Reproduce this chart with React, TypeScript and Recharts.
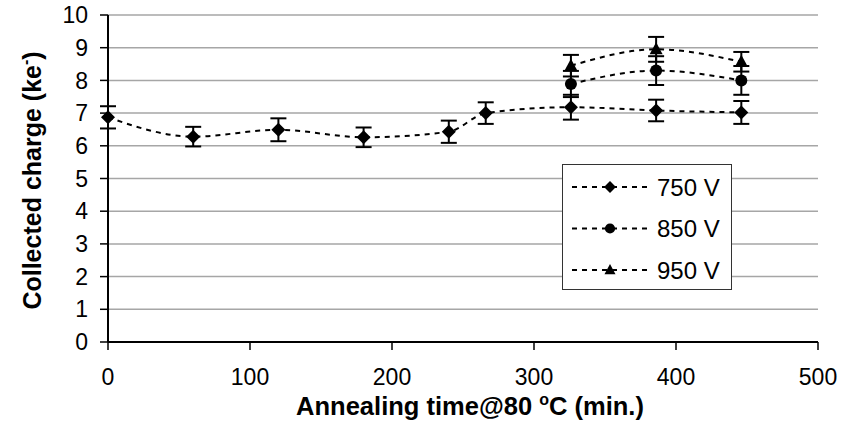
import { LineChart, Line, XAxis, YAxis, CartesianGrid, ErrorBar, Legend } from "recharts";

// annealing time (min.) and collected charge (ke-) with errors, per bias voltage
const times750 = [0, 60, 120, 180, 240, 266, 326, 386, 446];
const charge750 = [6.87, 6.28, 6.49, 6.26, 6.43, 7.0, 7.18, 7.08, 7.02];
const err750 = [0.34, 0.3, 0.35, 0.3, 0.34, 0.33, 0.38, 0.33, 0.35];

const times850 = [326, 386, 446];
const charge850 = [7.89, 8.3, 8.0];
const err850 = [0.4, 0.44, 0.44];

const times950 = [326, 386, 446];
const charge950 = [8.45, 8.95, 8.57];
const err950 = [0.33, 0.38, 0.3];

const seriesNames = ["750 V", "850 V", "950 V"];
const xTicks = [0, 100, 200, 300, 400, 500];
const yTicks = [0, 1, 2, 3, 4, 5, 6, 7, 8, 9, 10];

const FONT = "'Liberation Sans', Arial, sans-serif";

const toRows = (t: number[], c: number[], e: number[]) =>
  t.map((x, i) => ({ time: x, charge: c[i], err: e[i] }));

const data750 = toRows(times750, charge750, err750);
const data850 = toRows(times850, charge850, err850);
const data950 = toRows(times950, charge950, err950);

type Shape = "diamond" | "circle" | "triangle";

function marker(shape: Shape, cx: number, cy: number, s = 1, key?: any) {
  if (shape === "diamond") {
    const h = 7 * s;
    return (
      <polygon key={key} points={`${cx},${cy - h} ${cx + h},${cy} ${cx},${cy + h} ${cx - h},${cy}`} fill="#000" />
    );
  }
  if (shape === "circle") return <circle key={key} cx={cx} cy={cy} r={6 * s} fill="#000" />;
  return (
    <polygon
      key={key}
      points={`${cx},${cy - 7 * s} ${cx + 6.5 * s},${cy + 5 * s} ${cx - 6.5 * s},${cy + 5 * s}`}
      fill="#000"
    />
  );
}

const dotFor = (shape: Shape) => (p: any) => marker(shape, p.cx, p.cy, 1, p.index);

const shapes: Shape[] = ["diamond", "circle", "triangle"];

function LegendBox() {
  return (
    <svg width={171} height={127} style={{ display: "block" }}>
      <rect x={0.5} y={0.5} width={169} height={125} fill="#fff" stroke="#333" strokeWidth={1} />
      {seriesNames.map((name, i) => {
        const cy = 23 + i * 41.5;
        return (
          <g key={name}>
            <line x1={10} x2={88} y1={cy} y2={cy} stroke="#000" strokeWidth={2} strokeDasharray="5 5" />
            {marker(shapes[i], 48, cy, 0.85)}
            <text x={95} y={cy + 8.5} fontSize={24} fontFamily={FONT} fill="#000">
              {name}
            </text>
          </g>
        );
      })}
    </svg>
  );
}

const XTick = (p: any) => (
  <text x={p.x} y={p.y} dy="0.71em" textAnchor="middle" fontSize={23} fontFamily={FONT} fill="#000">
    {p.payload.value}
  </text>
);

const YTick = (p: any) => (
  <text x={p.x} y={p.y} dy="0.355em" textAnchor="end" fontSize={23} fontFamily={FONT} fill="#000">
    {p.payload.value}
  </text>
);

const XLabel = (props: any) => {
  const vb = props.viewBox;
  const cx = vb.x + vb.width / 2 + 7;
  return (
    <text x={cx} y={415} textAnchor="middle" fontSize={25.5} fontWeight="bold" fontFamily={FONT} fill="#000">
      Annealing time@80{" "}
      <tspan dy={-10} fontSize={16}>
        o
      </tspan>
      <tspan dy={10}>C (min.)</tspan>
    </text>
  );
};

const YLabel = (props: any) => {
  const vb = props.viewBox;
  const cy = vb.y + vb.height / 2 + 2;
  return (
    <text
      x={41}
      y={cy}
      transform={`rotate(-90, 41, ${cy})`}
      textAnchor="middle"
      fontSize={25}
      fontWeight="bold"
      fontFamily={FONT}
      fill="#000"
    >
      Collected charge (ke
      <tspan dy={-10} fontSize={16}>
        -
      </tspan>
      <tspan dy={10}>)</tspan>
    </text>
  );
};

export default function App() {
  return (
    <div style={{ position: "absolute", left: 0, top: 0, width: 857, height: 446, background: "#fff" }}>
      <LineChart width={857} height={446} margin={{ top: 15, right: 39, bottom: 64, left: 0 }}>
        <CartesianGrid vertical={false} stroke="#a6a6a6" strokeWidth={1.5} />
        <XAxis
          dataKey="time"
          type="number"
          domain={[0, 500]}
          ticks={xTicks}
          height={40}
          axisLine={{ stroke: "#000", strokeWidth: 2 }}
          tickLine={{ stroke: "#000", strokeWidth: 1.5 }}
          tickSize={8}
          tickMargin={19}
          tick={<XTick />}
          allowDuplicatedCategory={false}
          label={{ content: XLabel }}
        />
        <XAxis xAxisId="top" orientation="top" type="number" domain={[0, 500]} height={0} tick={false} tickLine={false} axisLine={{ stroke: "#000", strokeWidth: 2 }} />
        <YAxis
          type="number"
          domain={[0, 10]}
          ticks={yTicks}
          width={108}
          axisLine={{ stroke: "#000", strokeWidth: 2 }}
          tickLine={{ stroke: "#000", strokeWidth: 1.5 }}
          tickSize={8}
          tickMargin={12}
          tick={<YTick />}
          label={{ content: YLabel }}
        />
        <YAxis yAxisId="right" orientation="right" domain={[0, 10]} width={0} tick={false} tickLine={false} axisLine={{ stroke: "#000", strokeWidth: 2 }} />
        <Legend
          layout="vertical"
          align="center"
          verticalAlign="middle"
          content={() => <LegendBox />}
          wrapperStyle={{ left: 562, top: 164, width: 171, height: 127 }}
        />
        <Line
          data={data750}
          dataKey="charge"
          name={seriesNames[0]}
          type="monotone"
          stroke="#000"
          strokeWidth={2}
          strokeDasharray="5 5"
          dot={dotFor("diamond")}
          activeDot={false}
          isAnimationActive={false}
        >
          <ErrorBar dataKey="err" direction="y" width={8} stroke="#000" strokeWidth={2} isAnimationActive={false} />
        </Line>
        <Line
          data={data850}
          dataKey="charge"
          name={seriesNames[1]}
          type="monotone"
          stroke="#000"
          strokeWidth={2}
          strokeDasharray="5 5"
          dot={dotFor("circle")}
          activeDot={false}
          isAnimationActive={false}
        >
          <ErrorBar dataKey="err" direction="y" width={8} stroke="#000" strokeWidth={2} isAnimationActive={false} />
        </Line>
        <Line
          data={data950}
          dataKey="charge"
          name={seriesNames[2]}
          type="monotone"
          stroke="#000"
          strokeWidth={2}
          strokeDasharray="5 5"
          dot={dotFor("triangle")}
          activeDot={false}
          isAnimationActive={false}
        >
          <ErrorBar dataKey="err" direction="y" width={8} stroke="#000" strokeWidth={2} isAnimationActive={false} />
        </Line>
      </LineChart>
    </div>
  );
}
